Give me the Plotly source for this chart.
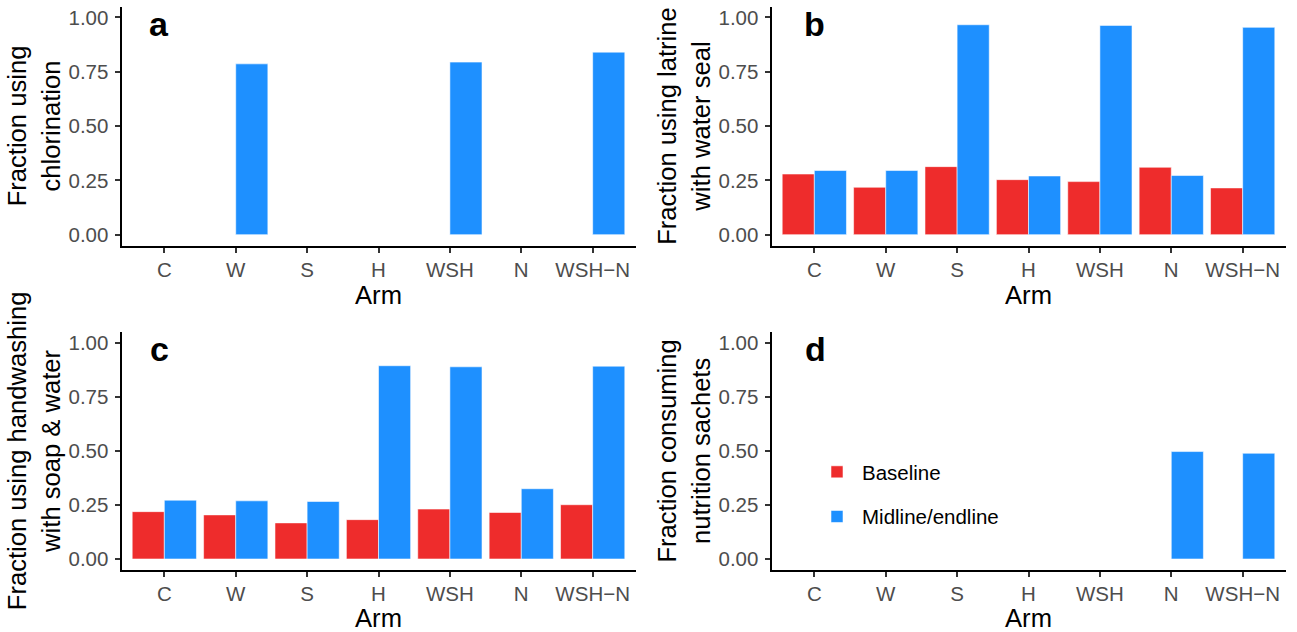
import plotly.graph_objects as go

# ---------------- data ----------------
arms = ["C", "W", "S", "H", "WSH", "N", "WSH−N"]

chlor_base = [0, 0, 0, 0, 0, 0, 0]
chlor_mid = [0, 0.786, 0, 0, 0.794, 0, 0.840]

latrine_base = [0.279, 0.218, 0.313, 0.253, 0.244, 0.310, 0.215]
latrine_mid = [0.295, 0.295, 0.966, 0.270, 0.963, 0.272, 0.954]

hand_base = [0.219, 0.204, 0.167, 0.182, 0.231, 0.215, 0.251]
hand_mid = [0.272, 0.269, 0.266, 0.894, 0.889, 0.325, 0.892]

sachet_base = [0, 0, 0, 0, 0, 0, 0]
sachet_mid = [0, 0, 0, 0, 0, 0.497, 0.489]

panel_tags = ["a", "b", "c", "d"]
y_titles = [
    "Fraction using<br>chlorination",
    "Fraction using latrine<br>with water seal",
    "Fraction using handwashing<br>with soap &amp; water",
    "Fraction consuming<br>nutrition sachets",
]
series_names = ["Baseline", "Midline/endline"]
y_tickvals = [0, 0.25, 0.5, 0.75, 1.0]
y_ticktext = ["0.00", "0.25", "0.50", "0.75", "1.00"]

# ---------------- style ----------------
W, H = 1297, 632
RED = "#EE2C2C"
BLUE = "#1E90FF"
FONT = "Liberation Sans, Arial, Helvetica, sans-serif"
TICK_COLOR = "#4D4D4D"
TICK_SIZE = 20.5
TITLE_SIZE = 25.6

# plot-area pixel boxes (left, right, top, bottom)
boxes = [
    (121.5, 635.5, 6.5, 245.5),
    (771.5, 1285.5, 6.5, 245.5),
    (121.5, 635.5, 332.0, 569.8),
    (771.5, 1285.5, 332.0, 569.8),
]
tag_x = [-0.07, 0.0, -0.07, 0.02]

panels = [
    (chlor_base, chlor_mid),
    (latrine_base, latrine_mid),
    (hand_base, hand_mid),
    (sachet_base, sachet_mid),
]

fig = go.Figure()
layout = dict(
    width=W,
    height=H,
    margin=dict(l=0, r=0, t=0, b=0),
    paper_bgcolor="white",
    plot_bgcolor="white",
    barmode="group",
    bargap=0.1,
    bargroupgap=0.0,
    font=dict(family=FONT, size=TICK_SIZE, color="black"),
    showlegend=True,
    legend=dict(
        x=812 / W,
        y=1 - 452 / H,
        xanchor="left",
        yanchor="top",
        font=dict(family=FONT, size=TICK_SIZE, color="black"),
        bgcolor="rgba(0,0,0,0)",
        tracegroupgap=15,
        itemwidth=40,
    ),
)

annotations = []
for i, ((base, mid), box) in enumerate(zip(panels, boxes)):
    n = i + 1
    xa = "x" if n == 1 else f"x{n}"
    ya = "y" if n == 1 else f"y{n}"
    for name, vals, col in [(series_names[0], base, RED), (series_names[1], mid, BLUE)]:
        fig.add_trace(
            go.Bar(
                x=arms,
                y=vals,
                name=name,
                marker=dict(color=col, line=dict(color="rgba(255,255,255,0.55)", width=1)),
                xaxis=xa,
                yaxis=ya,
                legendgroup=name,
                showlegend=(n == 1),
            )
        )
    l, r, t, b = box
    layout["xaxis" if n == 1 else f"xaxis{n}"] = dict(
        domain=[l / W, r / W],
        anchor=ya,
        type="category",
        categoryorder="array",
        categoryarray=arms,
        range=[-0.6, 6.6],
        showline=True,
        linecolor="black",
        linewidth=2,
        ticks="outside",
        ticklen=5,
        tickwidth=1.5,
        tickcolor="#333333",
        tickfont=dict(family=FONT, size=TICK_SIZE, color=TICK_COLOR),
        showgrid=False,
        zeroline=False,
        title=dict(text="Arm", font=dict(family=FONT, size=TITLE_SIZE, color="black"), standoff=1),
    )
    layout["yaxis" if n == 1 else f"yaxis{n}"] = dict(
        domain=[1 - b / H, 1 - t / H],
        anchor=xa,
        range=[-0.05, 1.05],
        tickvals=y_tickvals,
        ticktext=y_ticktext,
        showline=True,
        linecolor="black",
        linewidth=2,
        ticks="outside",
        ticklen=5,
        tickwidth=1.5,
        tickcolor="#333333",
        tickfont=dict(family=FONT, size=TICK_SIZE, color=TICK_COLOR),
        ticklabelstandoff=2,
        showgrid=False,
        zeroline=False,
        title=dict(text=y_titles[i], font=dict(family=FONT, size=TITLE_SIZE, color="black"), standoff=1),
    )
    annotations.append(
        dict(
            text=f"<b>{panel_tags[i]}</b>",
            x=tag_x[i],
            y=0.97,
            xref=xa,
            yref=ya,
            xanchor="center",
            yanchor="middle",
            showarrow=False,
            font=dict(family=FONT, size=34, color="black"),
        )
    )

layout["annotations"] = annotations
fig.update_layout(**layout)
fig.write_html(
    "out.html",
    config={"displayModeBar": False},
    post_script="document.body.style.margin='0';document.body.style.padding='0';",
)
